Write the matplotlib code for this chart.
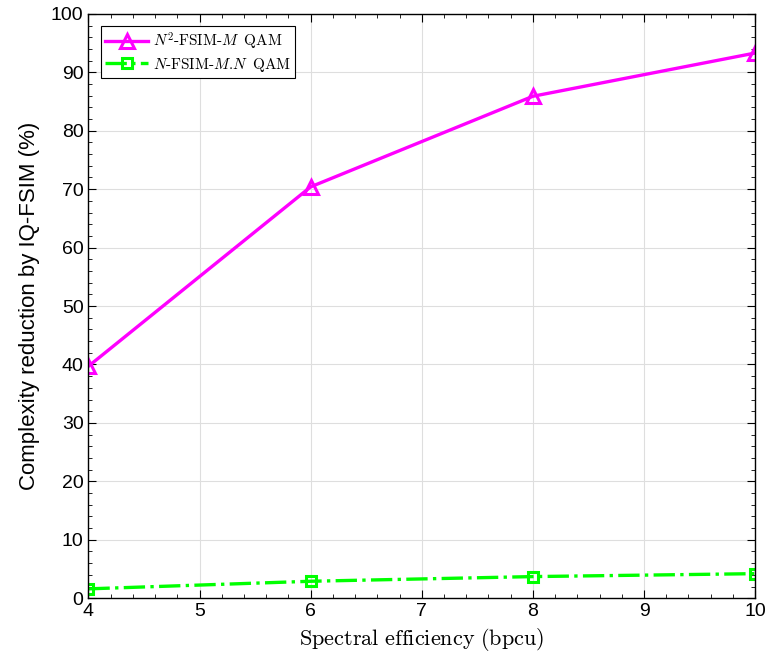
import matplotlib.pyplot as plt
from matplotlib.ticker import MultipleLocator

# donnees
se = [4, 6, 8, 10]
red_n2 = [39.7, 70.4, 85.9, 93.3]
red_nmn = [1.6, 2.9, 3.7, 4.2]

plt.rcParams['font.family'] = ['Liberation Sans', 'DejaVu Sans']
plt.rcParams['mathtext.fontset'] = 'cm'

fig, ax = plt.subplots(figsize=(7.69, 6.61), dpi=100)
fig.subplots_adjust(left=0.115, right=0.982, top=0.979, bottom=0.095)

ax.plot(se, red_n2, color='#ff00ff', lw=2.4, marker='^', ms=10, mfc='none',
        mew=2.2, label=r'$N^2\text{-FSIM-}M\;\;\mathrm{QAM}$')
ax.plot(se, red_nmn, color='#00ff00', lw=2.4, ls='-.', marker='s', ms=7,
        mfc='none', mew=2.2, label=r'$N\text{-FSIM-}M\text{.}N\;\;\mathrm{QAM}$')

ax.set_xlim(4, 10)
ax.set_ylim(0, 100)
ax.xaxis.set_major_locator(MultipleLocator(1))
ax.xaxis.set_minor_locator(MultipleLocator(0.2))
ax.yaxis.set_major_locator(MultipleLocator(10))
ax.yaxis.set_minor_locator(MultipleLocator(2))
ax.tick_params(which='both', direction='in', top=True, right=True)
ax.tick_params(which='major', length=6, labelsize=14)
ax.tick_params(which='minor', length=3)
ax.grid(True, which='major', color='#dedede', lw=0.8)
ax.set_axisbelow(True)
for s in ax.spines.values():
    s.set_linewidth(1.0)

ax.set_xlabel(r'$\mathrm{Spectral\ efficiency\ (bpcu)}$', fontsize=16, labelpad=4)
ax.set_ylabel('Complexity reduction by IQ-FSIM (%)', fontsize=16, labelpad=8)

leg = ax.legend(loc='upper left', fontsize=11, fancybox=False, edgecolor='black',
                framealpha=1, borderaxespad=0.8, handlelength=2.8,
                borderpad=0.3, labelspacing=0.25, handletextpad=0.3)
leg.get_frame().set_linewidth(0.8)

fig.savefig('out.png')
